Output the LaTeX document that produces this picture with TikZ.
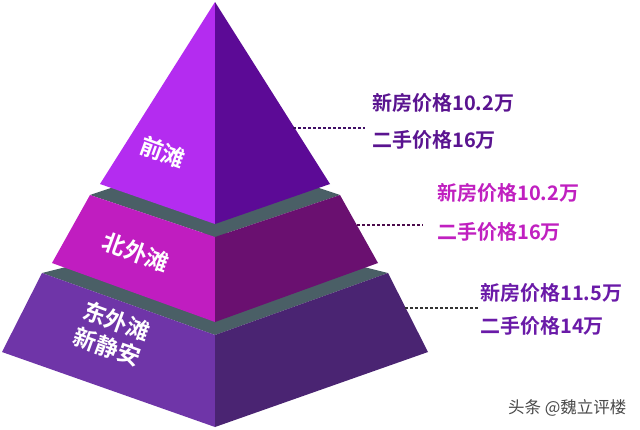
\documentclass[tikz,border=0pt]{standalone}
\usepackage{fontspec}
\setmainfont{Noto Sans CJK SC}[BoldFont={Noto Sans CJK SC Bold}]
\usetikzlibrary{positioning,calc}
\definecolor{topL}{HTML}{B42CF0}
\definecolor{topR}{HTML}{5C0A96}
\definecolor{midL}{HTML}{C01DC0}
\definecolor{midR}{HTML}{6A1070}
\definecolor{lowL}{HTML}{6F35A8}
\definecolor{lowR}{HTML}{4A2472}
\definecolor{slab}{HTML}{4A5F66}
\definecolor{txtA}{HTML}{5A1490}
\definecolor{txtB}{HTML}{C020C0}
\definecolor{txtC}{HTML}{6A1AA8}
\definecolor{mark}{HTML}{4A4A4A}

\begin{document}
\begin{tikzpicture}[
  x=1pt,y=-1pt,
  face/.style={draw=none},
  tier/.style={font=\bfseries\fontsize{23}{26}\selectfont,text=white,align=center,rotate=-20,inner sep=0pt},
  price/.style={font=\bfseries\fontsize{20}{24}\selectfont,anchor=west,inner sep=0pt},
  lead/.style={line width=1.2pt,dash pattern=on 3pt off 2pt}
]
\useasboundingbox[fill=white] (0,0) rectangle (640,429);

% bottom tier
\fill[slab] (42,273) -- (215,230) -- (388,273) -- (215,335) -- cycle;
\fill[face,lowL] (42,273) -- (215,335) -- (215,427) -- (2,352) -- cycle;
\fill[face,lowR] (215,335) -- (388,273) -- (428,352) -- (215,427) -- cycle;

% middle tier
\fill[slab] (90,195) -- (215,153) -- (340,195) -- (215,237) -- cycle;
\fill[face,midL] (90,195) -- (215,237) -- (215,322) -- (52,263) -- cycle;
\fill[face,midR] (215,237) -- (340,195) -- (378,263) -- (215,322) -- cycle;

% top tier
\fill[face,topL] (215,2) -- (215,224) -- (100,184) -- cycle;
\fill[face,topR] (215,2) -- (330,184) -- (215,224) -- cycle;

\node[tier] (t1) at (163,152) {前滩};
\node[tier] (t2) at (136,252) {北外滩};
\node[tier,font=\bfseries\fontsize{23}{27}\selectfont] (t3) at (112,334) {东外滩\\新静安};

% prices
\node[price,text=txtA] (a1) at (372,103) {新房价格10.2万};
\node[price,text=txtA] (a2) at (372,140) {二手价格16万};
\node[price,text=txtB] (b1) at (437,193) {新房价格10.2万};
\node[price,text=txtB] (b2) at (437,232) {二手价格16万};
\node[price,text=txtC] (c1) at (480,293) {新房价格11.5万};
\node[price,text=txtC] (c2) at (480,326) {二手价格14万};

\coordinate (e1) at (293,128);
\coordinate (e2) at (357,225);
\coordinate (e3) at (405,308);
\draw[lead,txtA!70!black] (e1) -- ($(e1 -| a2.west)+(-7,0)$);
\draw[lead,txtB!40!black] (e2) -- ($(e2 -| b2.west)+(-14,0)$);
\draw[lead,black!80] (e3) -- ($(e3 -| c2.west)+(-2,0)$);

\node[font=\fontsize{16.5}{19}\selectfont,text=mark,anchor=east] (wm) at (630,408) {头条 @魏立评楼};
\end{tikzpicture}
\end{document}
